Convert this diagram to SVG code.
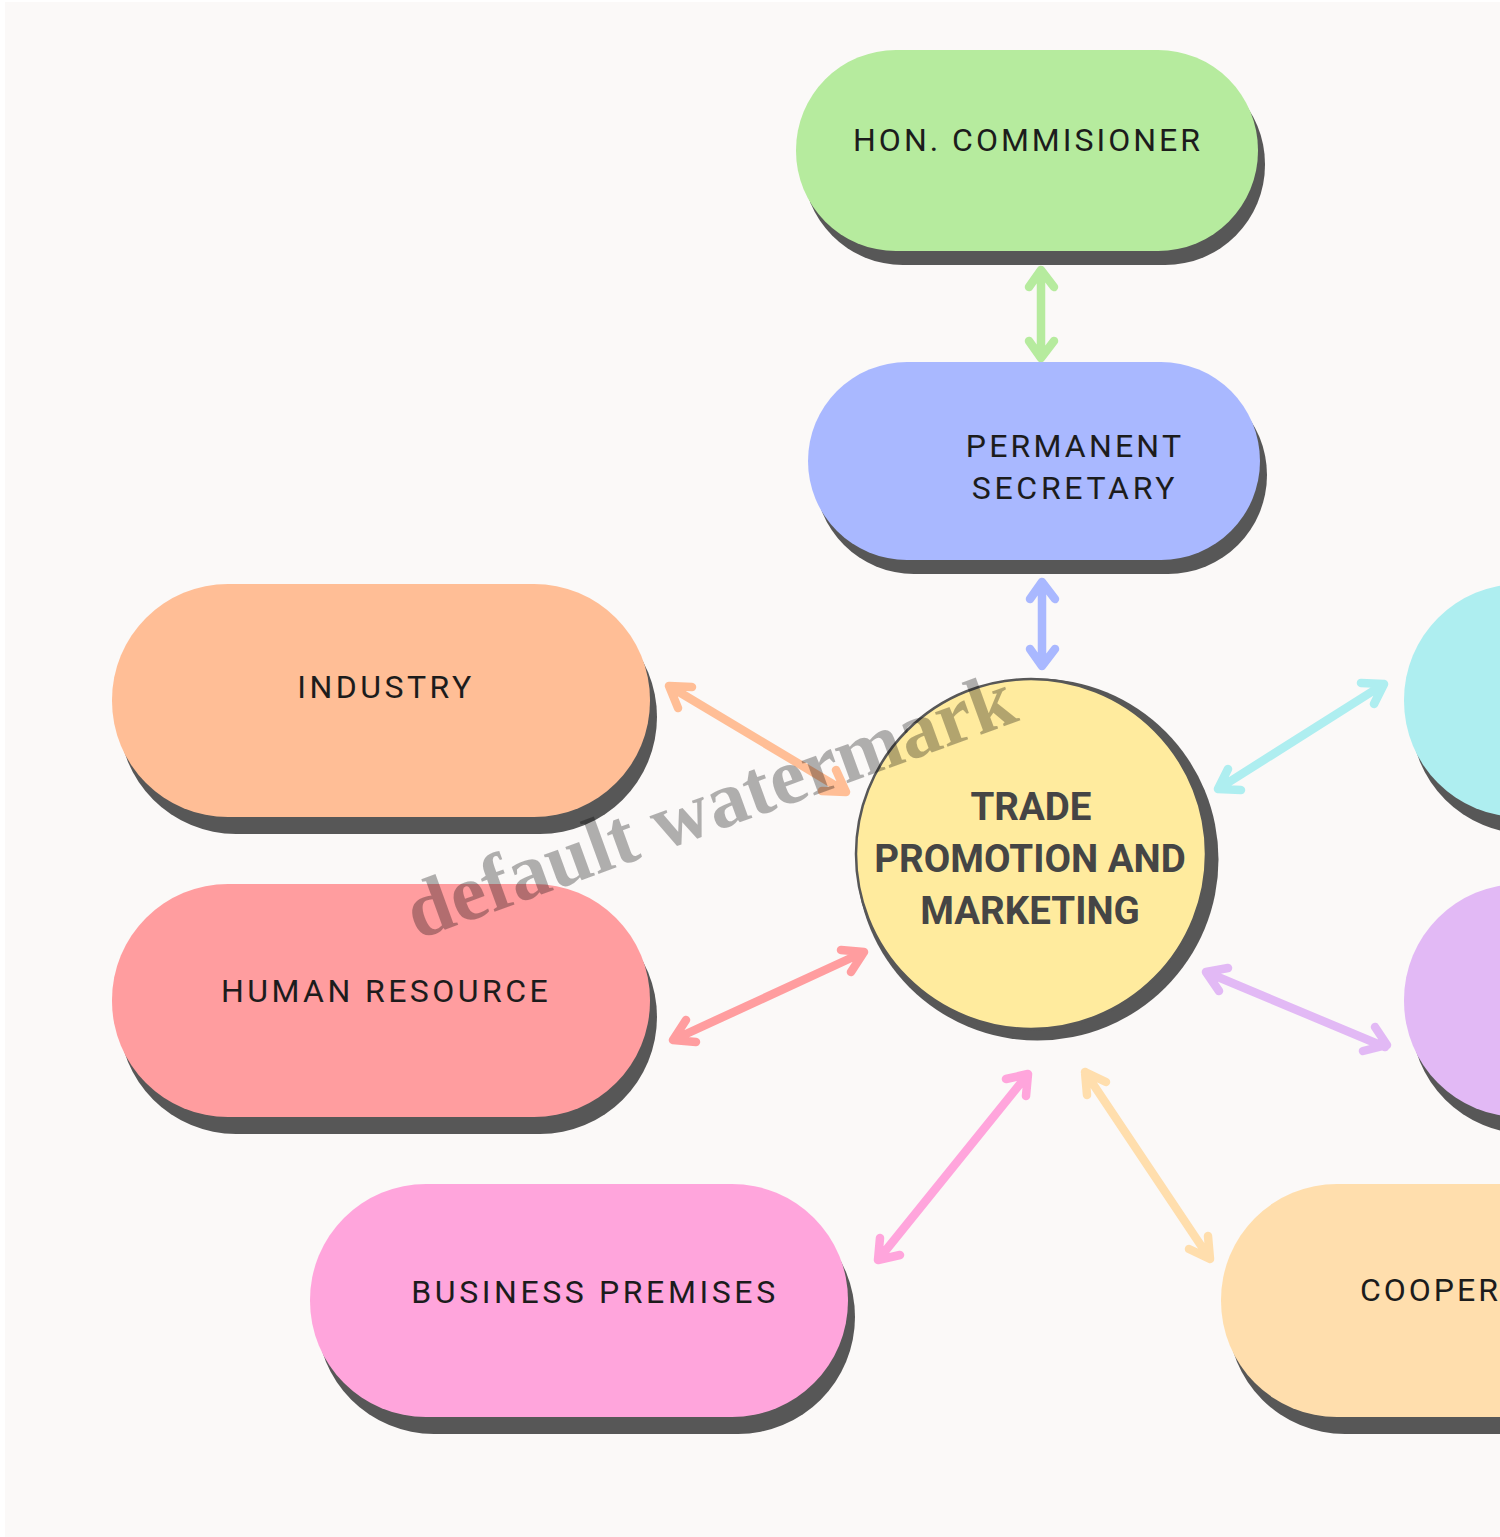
<svg xmlns="http://www.w3.org/2000/svg" width="1500" height="1537" viewBox="0 0 1500 1537">
<style>
.s{fill:#575757}
.t{font-family:Roboto,"Liberation Sans",sans-serif;font-size:32px;letter-spacing:3px;fill:#1c1c1c;text-anchor:middle}
.b{font-family:Roboto,"Liberation Sans",sans-serif;font-size:38.5px;font-weight:700;fill:#454545;text-anchor:middle}
.c{fill:none;stroke-width:8.5;stroke-linecap:round;stroke-linejoin:round}
.w{font-family:"Liberation Serif",serif;font-size:80px;font-weight:700;fill:#000;fill-opacity:.3;text-anchor:middle}
</style>
<rect width="1500" height="1537" fill="#fff"/>
<rect x="5" y="2" width="1495" height="1535" fill="#fbf9f8"/>
<g id="connectors">
<path class="c" stroke="#b6eb9e" d="M1041 270V358M1029 287L1041 270L1054 287M1029 341L1041 358L1054 341"/>
<path class="c" stroke="#a9b8ff" d="M1042 582V666M1030 599L1042 582L1055 599M1030 649L1042 666L1055 649"/>
<path class="c" stroke="#ffbe96" d="M669 686L846 792M692 687L669 686L678 708M822 791L846 792L836 770"/>
<path class="c" stroke="#ff9d9f" d="M673 1040L864 952M696 1042L673 1040L686 1020M841 950L864 952L851 972"/>
<path class="c" stroke="#ffa5dc" d="M878 1260L1028 1074M900 1255L878 1260L880 1238M1006 1079L1028 1074L1026 1096"/>
<path class="c" stroke="#ffdead" d="M1085 1072L1210 1259M1087 1095L1085 1072L1106 1082M1208 1236L1210 1259L1189 1249"/>
<path class="c" stroke="#e2b9f5" d="M1206 972L1385 1047M1228 968L1206 972L1219 991M1363 1051L1387 1045L1375 1027"/>
<path class="c" stroke="#aeeef0" d="M1218 789L1384 684M1241 790L1218 789L1228 769M1361 683L1384 684L1374 704"/>
</g>
<g id="hon"><rect class="s" x="803" y="64" width="462" height="201" rx="100"/><rect x="796" y="50" width="462" height="201" rx="100" fill="#b6eb9e"/><text class="t" x="1028" y="151">HON. COMMISIONER</text></g>
<g id="perm"><rect class="s" x="815" y="376" width="452" height="198" rx="99"/><rect x="808" y="362" width="452" height="198" rx="99" fill="#a9b8ff"/><text class="t" x="1075" y="457" style="letter-spacing:3.2px">PERMANENT</text><text class="t" x="1075" y="499" style="letter-spacing:3.7px">SECRETARY</text></g>
<g id="industry"><rect class="s" x="119" y="600" width="538" height="234" rx="117"/><rect x="112" y="584" width="538" height="233" rx="116" fill="#ffbe96"/><text class="t" x="386" y="698" style="letter-spacing:3.5px">INDUSTRY</text></g>
<g id="hr"><rect class="s" x="119" y="900" width="538" height="234" rx="117"/><rect x="112" y="884" width="538" height="233" rx="116" fill="#ff9d9f"/><text class="t" x="386" y="1002" style="letter-spacing:3.45px">HUMAN RESOURCE</text></g>
<g id="biz"><rect class="s" x="317" y="1200" width="538" height="234" rx="117"/><rect x="310" y="1184" width="538" height="233" rx="116" fill="#ffa5dc"/><text class="t" x="595" y="1303" style="letter-spacing:3.6px">BUSINESS PREMISES</text></g>
<g id="coop"><rect class="s" x="1228" y="1200" width="538" height="234" rx="117"/><rect x="1221" y="1184" width="538" height="233" rx="116" fill="#ffdead"/><text class="t" x="1360" y="1301" style="text-anchor:start">COOPER</text></g>
<g id="right1"><rect class="s" x="1411" y="600" width="538" height="234" rx="117"/><rect x="1404" y="584" width="538" height="233" rx="116" fill="#aeeef0"/></g>
<g id="right2"><rect class="s" x="1411" y="900" width="538" height="234" rx="117"/><rect x="1404" y="884" width="538" height="233" rx="116" fill="#e2b9f5"/></g>
<g id="trade"><circle class="s" cx="1037.500" cy="859.500" r="181"/><circle cx="1031" cy="854" r="175" fill="#ffeb9e" stroke="#575757" stroke-width="2.5"/>
<text class="b" x="1031" y="820">TRADE</text><text class="b" x="1030" y="872">PROMOTION AND</text><text class="b" x="1030" y="924">MARKETING</text></g>
<text class="w" transform="translate(719 830) rotate(-20)">default watermark</text>
</svg>
